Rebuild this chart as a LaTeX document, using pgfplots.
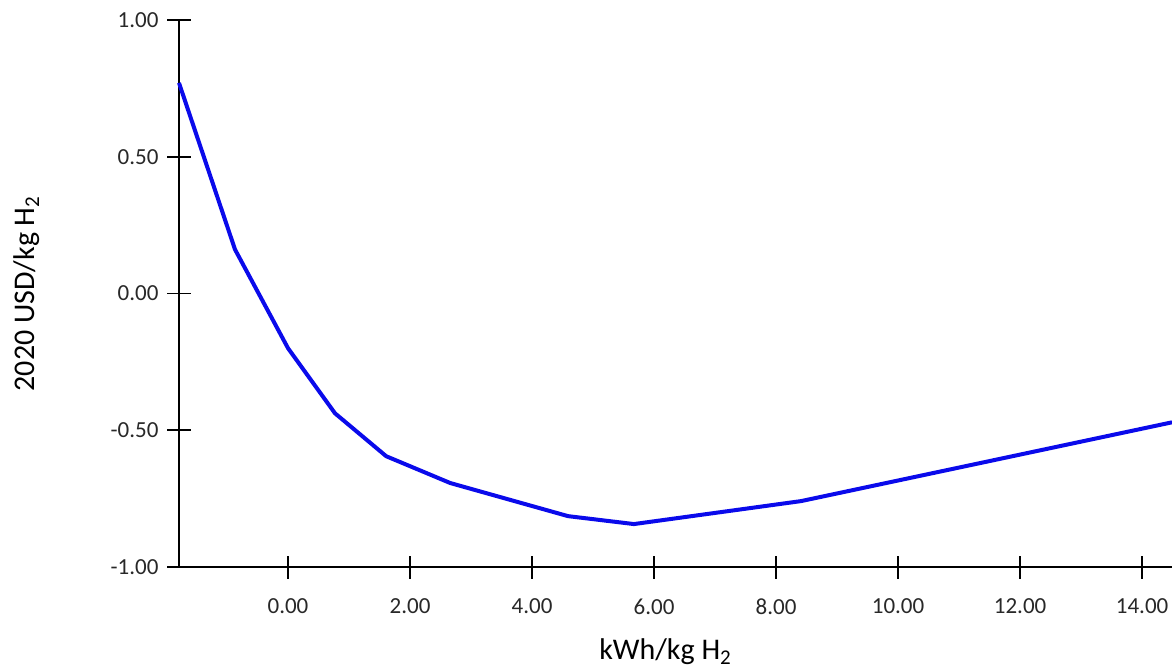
\documentclass[border=0pt]{standalone}
\usepackage{fontspec}
\setmainfont{Carlito}
\usepackage{pgfplots}
\pgfplotsset{compat=1.18}
\definecolor{lineblue}{RGB}{10,10,235}
\definecolor{txtgray}{RGB}{40,40,40}

\begin{document}
\begin{tikzpicture}
% page frame: 1172 x 671 px at 0.5pt per px
\useasboundingbox (-89.5pt,-52pt) rectangle (496.5pt,283.5pt);
\begin{axis}[
  at={(0,0)}, anchor=south west,
  scale only axis,
  width=496.5pt, height=273.5pt,
  xmin=-1.787, xmax=14.49,
  ymin=-1, ymax=1,
  axis x line=bottom, axis y line=left,
  axis line style={-, black, line width=0.9pt},
  xtick={0,2,...,14},
  ytick={-1,-0.5,0,0.5,1},
  tick align=center,
  major tick length=11.5pt,
  tick style={black, line width=0.9pt},
  /pgf/number format/assume math mode=true,
  /pgf/number format/fixed,
  /pgf/number format/fixed zerofill,
  /pgf/number format/precision=2,
  ticklabel style={font=\fontsize{11.5}{13}\selectfont, text=txtgray},
  xticklabel style={yshift=-6.5pt},
  yticklabel style={xshift=-1pt},
  xlabel={kWh/kg H\textsubscript{2}},
  ylabel={2020 USD/kg H\textsubscript{2}},
  label style={font=\fontsize{15}{17}\selectfont, text=black},
  xlabel style={at={(rel axis cs:0.49,0)}, anchor=center, yshift=-42.5pt},
  ylabel style={at={(rel axis cs:0,0.5)}, anchor=center, xshift=0pt, yshift=76pt},
  clip=false,
]
\addplot[lineblue, line width=2pt, line join=round] coordinates {
  (-1.787, 0.770)
  (-0.869, 0.161)
  (0.000, -0.200)
  (0.770, -0.438)
  (1.610, -0.595)
  (2.660, -0.693)
  (4.590, -0.814)
  (5.670, -0.843)
  (8.410, -0.759)
  (14.49, -0.471)
};
\end{axis}
\end{tikzpicture}
\end{document}
